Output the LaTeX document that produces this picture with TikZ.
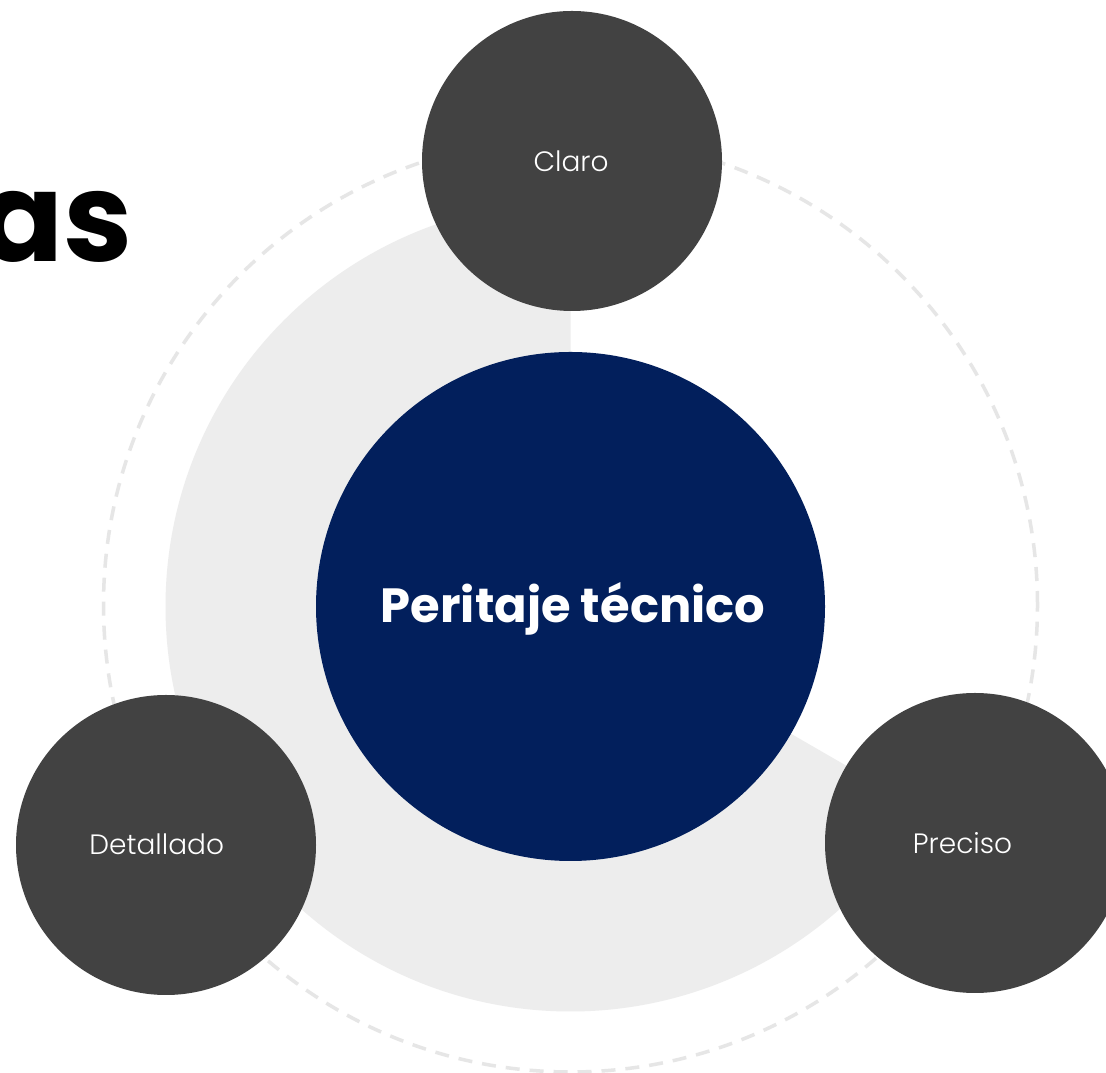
\documentclass[tikz,border=0pt]{standalone}
\usepackage{fontspec}
\setmainfont{Poppins}
\newfontfamily\pbold{Poppins}[UprightFont={* Bold}]
\newfontfamily\plight{Poppins}[UprightFont={* Light}]
\definecolor{sectorgray}{HTML}{EDEDED}
\definecolor{dashgray}{HTML}{E6E6E6}
\definecolor{darkdisc}{HTML}{424242}
\definecolor{navy}{HTML}{021F5C}
\tikzset{
  satellite/.style={circle, fill=darkdisc, minimum size=300pt, inner sep=0pt},
  satlabel/.style={text=white, font=\plight\fontsize{28}{33}\selectfont, anchor=base, inner sep=0pt},
  hub/.style={circle, fill=navy, minimum size=509pt, inner sep=0pt},
}
\begin{document}
\begin{tikzpicture}[x=1pt,y=1pt]
\useasboundingbox (0,0) rectangle (1106,1073);
\fill[white] (0,0) rectangle (1106,1073);
% title fragment
\node[anchor=base east, inner sep=0pt, font=\pbold\fontsize{124}{130}\selectfont] (title) at (133,811) {as};
% gray sector
\coordinate (mid) at (570.5,466.5);
\fill[sectorgray] (mid) -- ++(90:405pt) arc[start angle=90, end angle=330, radius=405pt] -- cycle;
% dashed orbit
\draw[dashgray, line width=3.5pt, dash pattern=on 14pt off 10pt] (570.5,468) circle[radius=467pt];
% satellites
\node[satellite] (claro) at (572,912) {};
\node[satellite] (detallado) at (166,228) {};
\node[satellite] (preciso) at (975,230) {};
\node[satlabel] (tclaro) at (571,901) {Claro};
\node[satlabel] (tdet) at (156.7,218) {Detallado};
\node[satlabel] (tpre) at (962.5,219) {Preciso};
% hub
\node[hub] (hubc) at (mid) {};
\node[anchor=base, inner sep=0pt, text=white, font=\pbold\fontsize{48}{55}\selectfont] (hubtext) at (573,450) {Peritaje técnico};
\end{tikzpicture}
\end{document}
